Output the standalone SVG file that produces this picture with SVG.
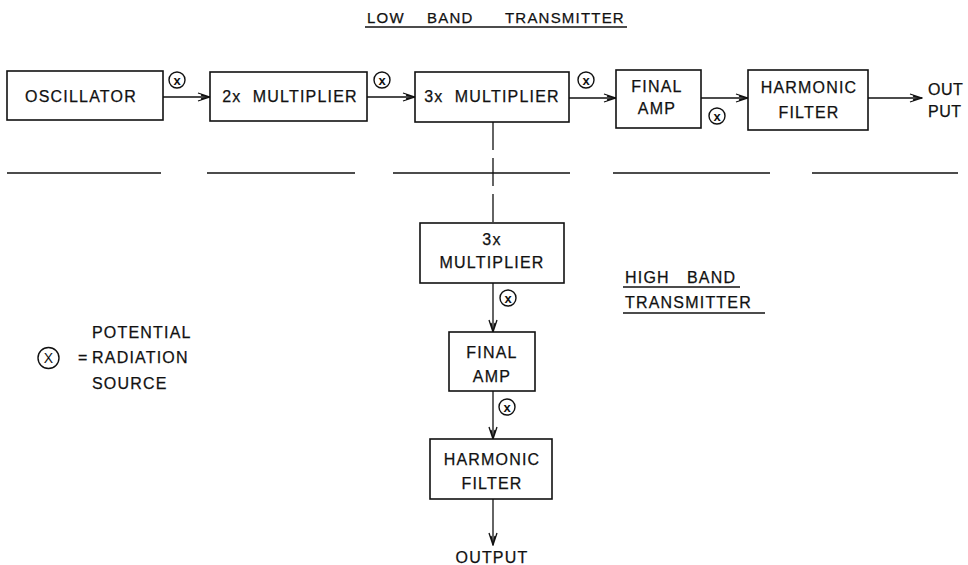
<svg xmlns="http://www.w3.org/2000/svg" width="968" height="565" viewBox="0 0 968 565">
<defs>
<style>
.box{fill:#fff;stroke:#111;stroke-width:1.6}
.t{font-family:"Liberation Sans",Arial,sans-serif;font-size:16px;fill:#111;letter-spacing:1.2px;stroke:#111;stroke-width:0.25}
.c{text-anchor:middle}
.ln{stroke:#111;stroke-width:1.3;fill:none}
.x{fill:#fff;stroke:#111;stroke-width:1.4}
.xt{font-family:"Liberation Sans",Arial,sans-serif;font-size:13px;font-weight:bold;fill:#111;text-anchor:middle}
</style>
<marker id="ah" markerWidth="14" markerHeight="10" refX="13" refY="5" orient="auto" markerUnits="userSpaceOnUse">
<path d="M1,1 L13,5 L1,9 M4,3 L13,5 L4,7" fill="none" stroke="#111" stroke-width="1.3"/>
</marker>
</defs>
<g id="title">
<text class="t" x="367" y="23" style="font-size:15px">LOW</text>
<text class="t" x="427" y="23" style="font-size:15px">BAND</text>
<text class="t" x="505" y="23" style="font-size:15px">TRANSMITTER</text>
<line class="ln" x1="365" y1="27" x2="627" y2="27"/>
</g>
<g id="connectors">
<line class="ln" x1="163" y1="97" x2="210" y2="97" marker-end="url(#ah)"/>
<line class="ln" x1="367" y1="97" x2="415" y2="97" marker-end="url(#ah)"/>
<line class="ln" x1="569" y1="98" x2="616" y2="98" marker-end="url(#ah)"/>
<line class="ln" x1="701" y1="98" x2="748" y2="98" marker-end="url(#ah)"/>
<line class="ln" x1="868" y1="98" x2="922" y2="98" marker-end="url(#ah)"/>
<line class="ln" x1="493" y1="122" x2="493" y2="223" stroke-dasharray="28 8"/>
<line class="ln" x1="493" y1="283" x2="493" y2="332" marker-end="url(#ah)"/>
<line class="ln" x1="493" y1="391" x2="493" y2="439" marker-end="url(#ah)"/>
<line class="ln" x1="493" y1="499" x2="493" y2="545" marker-end="url(#ah)"/>
</g>
<g id="dividers">
<line class="ln" x1="7" y1="173" x2="161" y2="173"/>
<line class="ln" x1="207" y1="173" x2="355" y2="173"/>
<line class="ln" x1="393" y1="173" x2="570" y2="173"/>
<line class="ln" x1="613" y1="173" x2="770" y2="173"/>
<line class="ln" x1="812" y1="173" x2="958" y2="173"/>
</g>
<g id="oscillator">
<rect class="box" x="7" y="71" width="156" height="49"/>
<text class="t c" x="81" y="102">OSCILLATOR</text>
</g>
<g id="mult2x">
<rect class="box" x="210" y="72" width="157" height="49"/>
<text class="t c" x="290" y="102" xml:space="preserve">2x  MULTIPLIER</text>
</g>
<g id="mult3x">
<rect class="box" x="415" y="72" width="154" height="50"/>
<text class="t c" x="492" y="102" xml:space="preserve">3x  MULTIPLIER</text>
</g>
<g id="finalamp">
<rect class="box" x="616" y="70" width="85" height="58"/>
<text class="t c" x="657" y="92">FINAL</text>
<text class="t c" x="657" y="114">AMP</text>
</g>
<g id="harmfilter">
<rect class="box" x="748" y="70" width="120" height="60"/>
<text class="t c" x="809" y="93">HARMONIC</text>
<text class="t c" x="809" y="118">FILTER</text>
</g>
<g id="out">
<text class="t" x="928" y="95" style="letter-spacing:0.5px">OUT</text>
<text class="t" x="928" y="117" style="letter-spacing:0.5px">PUT</text>
</g>
<g id="hb_mult3x">
<rect class="box" x="420" y="223" width="144" height="60"/>
<text class="t c" x="492" y="245">3x</text>
<text class="t c" x="492" y="268">MULTIPLIER</text>
</g>
<g id="hb_finalamp">
<rect class="box" x="449" y="332" width="86" height="59"/>
<text class="t c" x="492" y="358">FINAL</text>
<text class="t c" x="492" y="382">AMP</text>
</g>
<g id="hb_harmfilter">
<rect class="box" x="430" y="439" width="122" height="60"/>
<text class="t c" x="492" y="465">HARMONIC</text>
<text class="t c" x="492" y="489">FILTER</text>
</g>
<g id="hb_output">
<text class="t c" x="492" y="563">OUTPUT</text>
</g>
<g id="hb_title">
<text class="t" x="625" y="283">HIGH</text>
<text class="t" x="687" y="283">BAND</text>
<line class="ln" x1="623" y1="287" x2="740" y2="287"/>
<text class="t" x="625" y="308">TRANSMITTER</text>
<line class="ln" x1="623" y1="313" x2="765" y2="313"/>
</g>
<g id="radiation_sources">
<circle class="x" cx="177" cy="80" r="8"/><text class="xt" x="177" y="84.5">x</text>
<circle class="x" cx="382" cy="80" r="8"/><text class="xt" x="382" y="84.5">x</text>
<circle class="x" cx="586" cy="80" r="8"/><text class="xt" x="586" y="84.5">x</text>
<circle class="x" cx="717" cy="116" r="8"/><text class="xt" x="717" y="120.5">x</text>
<circle class="x" cx="508" cy="298" r="8"/><text class="xt" x="508" y="302.5">x</text>
<circle class="x" cx="507" cy="407" r="8"/><text class="xt" x="507" y="411.5">x</text>
</g>
<g id="legend">
<circle class="x" cx="48.5" cy="358" r="10.5"/>
<text class="xt" x="48.5" y="363" style="font-size:14px;font-weight:normal">X</text>
<text class="t" x="78" y="363">=</text>
<text class="t" x="92" y="338">POTENTIAL</text>
<text class="t" x="92" y="363">RADIATION</text>
<text class="t" x="92" y="389">SOURCE</text>
</g>
</svg>
